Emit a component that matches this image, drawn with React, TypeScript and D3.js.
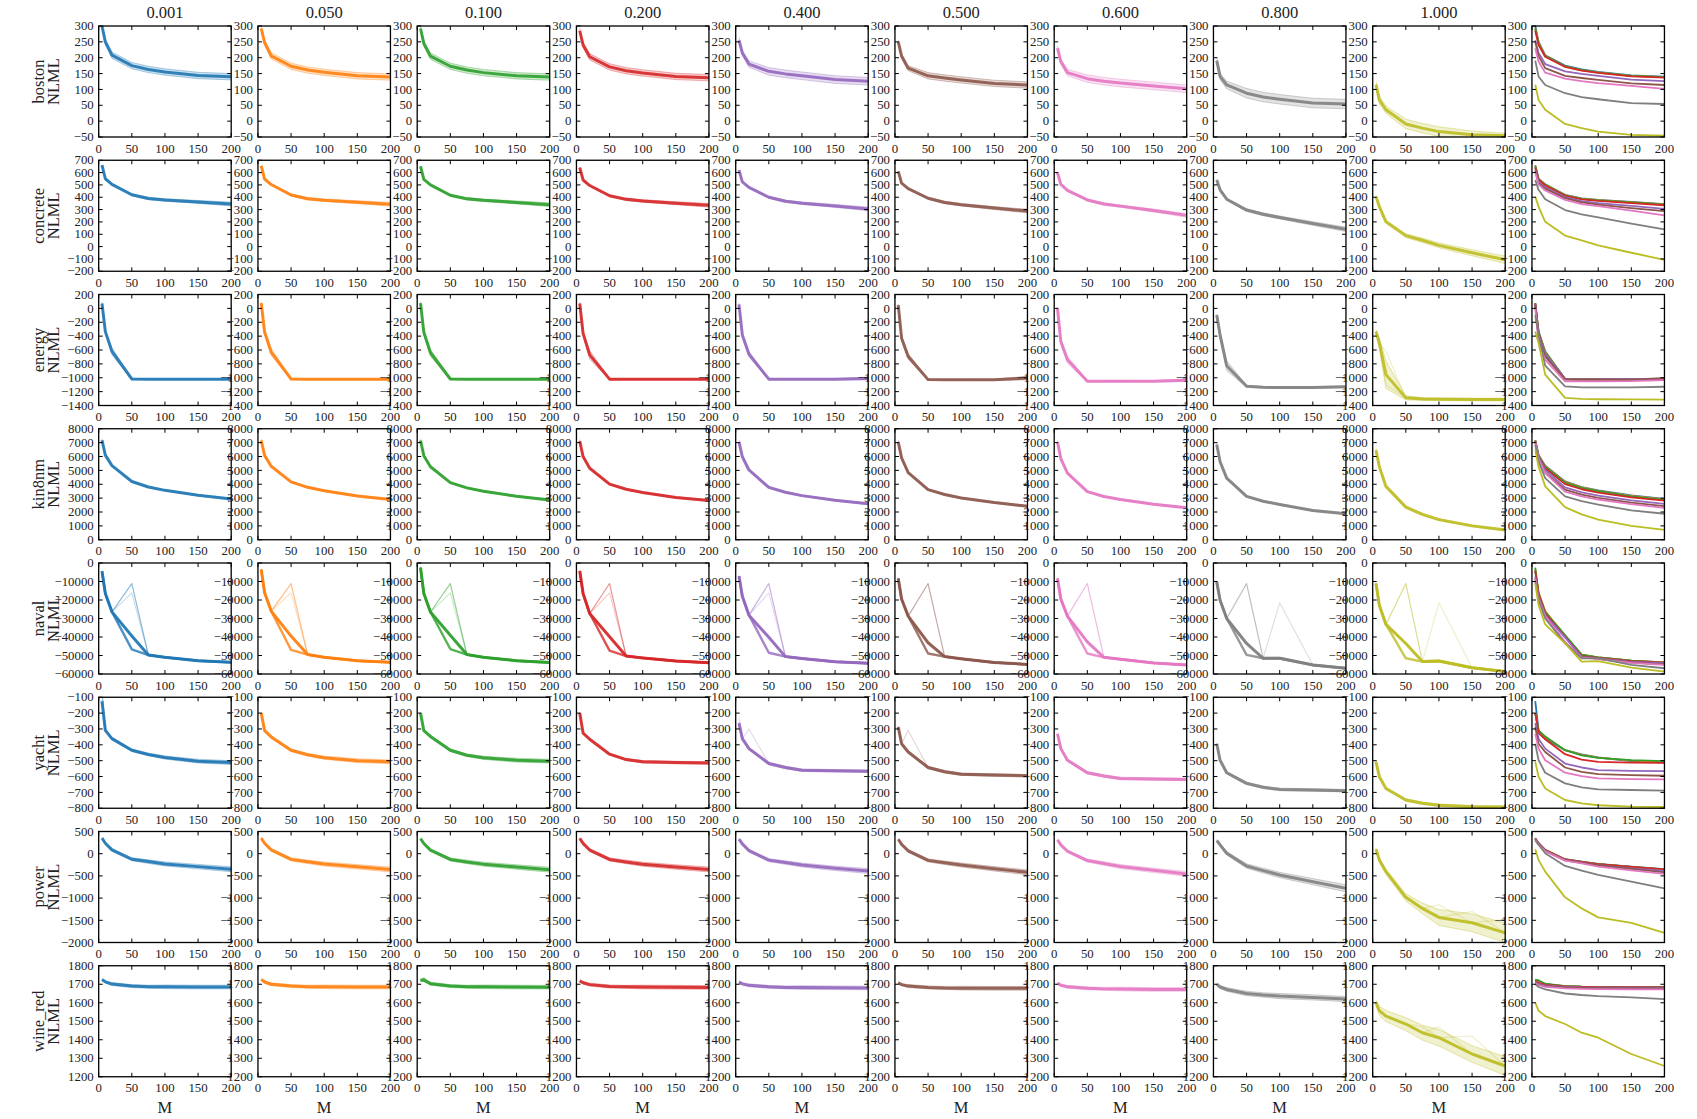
import React from 'react';
import * as d3 from 'd3';

// ---------------- data ----------------
const M = [5, 10, 20, 50, 75, 100, 150, 200];
const fractions = ['0.001', '0.050', '0.100', '0.200', '0.400', '0.500', '0.600', '0.800', '1.000'];
const colors = ['#1f77b4', '#ff7f0e', '#2ca02c', '#d62728', '#9467bd', '#8c564b', '#e377c2', '#7f7f7f', '#bcbd22'];
const datasets = ['boston', 'concrete', 'energy', 'kin8nm', 'naval', 'yacht', 'power', 'wine_red'];
const yDomains = [[-50, 300], [-200, 700], [-1400, 200], [0, 8000], [-60000, 0], [-800, -100], [-2000, 500], [1200, 1800]];
const yTickSteps = [50, 100, 200, 1000, 10000, 100, 500, 100];
const xTicks = [0, 50, 100, 150, 200];

const bostonMean = [
  [300, 250, 208, 175, 163, 155, 144, 140],
  [292, 248, 206, 173, 161, 154, 143, 139],
  [292, 245, 205, 173, 161, 153, 143, 139],
  [285, 240, 203, 171, 159, 152, 141, 137],
  [255, 215, 180, 157, 149, 143, 131, 126],
  [250, 205, 167, 143, 136, 130, 119, 114],
  [230, 188, 153, 134, 126, 120, 111, 102],
  [191, 141, 114, 88, 76, 69, 57, 54],
  [115, 67, 36, -9, -22, -33, -43, -46],
];
const bostonSpread = [
  [5, 8, 10, 10, 10, 10, 10, 10],
  [8, 8, 10, 10, 10, 10, 10, 10],
  [8, 8, 10, 10, 10, 10, 10, 10],
  [8, 8, 10, 10, 10, 10, 10, 10],
  [8, 8, 10, 12, 12, 12, 12, 12],
  [5, 8, 8, 10, 10, 10, 10, 10],
  [8, 8, 10, 12, 12, 12, 12, 12],
  [8, 10, 12, 15, 15, 15, 15, 15],
  [10, 12, 12, 15, 15, 15, 12, 8],
];

const concreteMean = [
  [660, 550, 505, 420, 390, 378, 362, 345],
  [655, 548, 503, 418, 388, 376, 360, 343],
  [650, 545, 500, 416, 387, 375, 358, 340],
  [640, 540, 495, 412, 383, 370, 352, 335],
  [620, 525, 480, 400, 368, 352, 330, 305],
  [610, 515, 470, 392, 358, 340, 312, 288],
  [600, 505, 455, 378, 345, 328, 292, 253],
  [540, 460, 384, 296, 262, 236, 187, 140],
  [405, 324, 201, 89, 51, 10, -50, -107],
];
const concreteSpread = [
  [5, 5, 6, 8, 10, 10, 12, 15],
  [5, 5, 6, 8, 10, 10, 12, 15],
  [5, 5, 6, 8, 10, 10, 12, 15],
  [5, 5, 6, 8, 10, 10, 12, 15],
  [5, 5, 6, 8, 10, 10, 12, 15],
  [5, 5, 6, 8, 10, 10, 12, 15],
  [5, 5, 6, 8, 10, 10, 12, 15],
  [6, 6, 8, 10, 12, 12, 15, 18],
  [10, 10, 12, 15, 18, 20, 25, 30],
];

const energyMean = [
  [70, -335, -620, -1018, -1020, -1020, -1020, -1020],
  [75, -340, -630, -1018, -1020, -1020, -1020, -1020],
  [75, -345, -640, -1018, -1020, -1020, -1020, -1020],
  [70, -360, -670, -1020, -1022, -1022, -1022, -1020],
  [57, -383, -660, -1020, -1022, -1022, -1020, -1010],
  [47, -430, -693, -1027, -1030, -1030, -1030, -1005],
  [0, -478, -740, -1051, -1052, -1052, -1050, -1035],
  [-96, -383, -827, -1123, -1138, -1140, -1140, -1130],
  [-335, -500, -955, -1290, -1305, -1310, -1312, -1314],
];
const energySpread = [
  [20, 30, 50, 10, 6, 6, 6, 10],
  [20, 30, 50, 10, 6, 6, 6, 10],
  [20, 30, 50, 10, 6, 6, 6, 10],
  [20, 30, 60, 10, 6, 6, 6, 10],
  [20, 30, 40, 10, 6, 6, 10, 20],
  [20, 30, 40, 10, 6, 6, 10, 25],
  [20, 40, 50, 12, 8, 8, 10, 20],
  [20, 60, 70, 15, 10, 10, 10, 15],
  [30, 80, 200, 30, 20, 20, 20, 20],
];

const kin8nmMean = [
  [7170, 6100, 5340, 4200, 3800, 3560, 3200, 2940],
  [7150, 6080, 5300, 4170, 3780, 3530, 3160, 2900],
  [7150, 6060, 5260, 4120, 3740, 3500, 3130, 2870],
  [7100, 6000, 5150, 4010, 3640, 3400, 3050, 2825],
  [7050, 5980, 5030, 3775, 3420, 3180, 2840, 2590],
  [7050, 5900, 4840, 3610, 3260, 3015, 2680, 2420],
  [7050, 5850, 4800, 3465, 3120, 2900, 2560, 2300],
  [6860, 5625, 4440, 3130, 2777, 2540, 2110, 1875],
  [6450, 5270, 3845, 2350, 1830, 1450, 1000, 710],
];
const kin8nmSpread = [
  [120, 80, 60, 50, 50, 50, 50, 60],
  [120, 80, 60, 50, 50, 50, 50, 60],
  [120, 80, 60, 50, 50, 50, 50, 60],
  [120, 80, 60, 50, 50, 50, 50, 60],
  [120, 80, 60, 50, 50, 50, 50, 60],
  [120, 80, 60, 50, 50, 50, 50, 60],
  [120, 80, 60, 50, 50, 50, 50, 60],
  [120, 80, 60, 50, 50, 50, 50, 60],
  [150, 100, 80, 80, 80, 70, 70, 70],
];

const navalMean = [
  [-4500, -16500, -26400, -39500, -49750, -51000, -52800, -53700],
  [-3600, -16000, -26000, -39500, -49500, -51000, -52800, -53700],
  [-2500, -16500, -26500, -39000, -49500, -51000, -52800, -53800],
  [-4300, -16500, -27300, -39900, -50300, -51300, -53000, -53900],
  [-7200, -18000, -28200, -40200, -50600, -51600, -53400, -54200],
  [-8400, -19500, -28700, -43100, -50600, -51800, -53800, -54800],
  [-8400, -19500, -28700, -42600, -51000, -52000, -54000, -55100],
  [-10200, -20100, -30000, -43500, -51500, -51500, -55100, -56900],
  [-11100, -22800, -33200, -43500, -53300, -53000, -56600, -58700],
];
const navalSpread = [
  [600, 500, 500, 500, 400, 400, 400, 400],
  [600, 500, 500, 500, 400, 400, 400, 400],
  [600, 500, 500, 500, 400, 400, 400, 400],
  [600, 500, 500, 500, 400, 400, 400, 400],
  [600, 500, 500, 500, 400, 400, 400, 400],
  [600, 500, 500, 500, 400, 400, 400, 400],
  [600, 500, 500, 500, 400, 400, 400, 400],
  [600, 600, 600, 600, 500, 600, 500, 500],
  [600, 600, 600, 600, 500, 600, 500, 500],
];

const yachtMean = [
  [-125, -309, -361, -434, -461, -480, -503, -512],
  [-200, -310, -350, -434, -463, -481, -500, -507],
  [-200, -310, -347, -434, -466, -482, -497, -503],
  [-200, -326, -365, -459, -493, -507, -512, -514],
  [-263, -361, -424, -518, -543, -560, -564, -566],
  [-288, -393, -445, -543, -570, -585, -591, -595],
  [-330, -424, -497, -576, -597, -612, -616, -618],
  [-393, -497, -576, -643, -668, -681, -685, -689],
  [-507, -601, -675, -748, -769, -781, -790, -792],
];
const yachtSpread = [
  [5, 8, 8, 8, 8, 10, 12, 12],
  [5, 8, 8, 8, 8, 10, 12, 12],
  [5, 8, 8, 8, 8, 10, 12, 12],
  [5, 6, 6, 6, 6, 8, 8, 8],
  [5, 8, 8, 8, 8, 8, 8, 8],
  [5, 8, 8, 8, 8, 8, 8, 8],
  [5, 8, 8, 8, 8, 8, 8, 8],
  [5, 8, 8, 8, 8, 8, 8, 8],
  [5, 8, 8, 8, 8, 8, 8, 8],
];

const powerMean = [
  [350, 236, 86, -125, -178, -230, -291, -350],
  [350, 236, 86, -128, -182, -233, -295, -355],
  [340, 230, 80, -130, -185, -235, -300, -360],
  [345, 232, 82, -130, -185, -236, -300, -355],
  [330, 220, 70, -145, -200, -255, -330, -390],
  [325, 210, 65, -150, -205, -255, -340, -420],
  [312, 200, 55, -155, -220, -290, -375, -456],
  [297, 200, 10, -276, -380, -479, -630, -780],
  [101, -140, -404, -983, -1232, -1435, -1556, -1782],
];
const powerSpread = [
  [20, 25, 30, 35, 40, 45, 50, 55],
  [20, 25, 30, 35, 40, 45, 50, 55],
  [20, 25, 30, 35, 40, 45, 50, 55],
  [20, 25, 30, 35, 40, 45, 50, 55],
  [20, 25, 30, 35, 40, 45, 50, 55],
  [20, 25, 30, 35, 40, 45, 50, 55],
  [20, 25, 30, 35, 40, 45, 50, 55],
  [20, 30, 40, 50, 55, 60, 70, 80],
  [20, 40, 60, 80, 120, 180, 200, 220],
];

const wineMean = [
  [1726, 1713, 1701, 1690, 1687, 1686, 1685, 1685],
  [1726, 1712, 1700, 1690, 1687, 1686, 1685, 1685],
  [1722, 1722, 1703, 1690, 1687, 1686, 1685, 1684],
  [1718, 1708, 1698, 1688, 1686, 1685, 1684, 1683],
  [1712, 1702, 1694, 1686, 1683, 1682, 1681, 1680],
  [1708, 1698, 1690, 1683, 1680, 1679, 1678, 1678],
  [1706, 1695, 1686, 1678, 1675, 1674, 1672, 1672],
  [1701, 1685, 1672, 1650, 1642, 1636, 1629, 1620],
  [1600, 1557, 1528, 1485, 1438, 1411, 1323, 1258],
];
const wineSpread = [
  [5, 6, 8, 8, 8, 10, 10, 10],
  [5, 6, 8, 8, 8, 10, 10, 10],
  [5, 6, 8, 8, 8, 10, 10, 10],
  [5, 6, 8, 8, 8, 10, 10, 10],
  [5, 6, 8, 8, 8, 10, 10, 10],
  [5, 6, 8, 8, 8, 10, 10, 10],
  [5, 6, 8, 8, 8, 10, 10, 10],
  [6, 8, 10, 12, 12, 14, 14, 14],
  [15, 25, 30, 35, 40, 45, 45, 50],
];

// individual runs that deviate from the mean at one M: [dataset, column, M index, value, kind]
const extraRuns: [number, number, number, number, string][] = [
  [4, 0, 3, -46700, 'strong'], [4, 0, 3, -11100, 'light'], [4, 0, 3, -16200, 'faint'],
  [4, 1, 3, -47000, 'strong'], [4, 1, 3, -11100, 'light'], [4, 1, 3, -16200, 'faint'],
  [4, 2, 3, -46500, 'strong'], [4, 2, 3, -11100, 'light'], [4, 2, 3, -16200, 'faint'],
  [4, 3, 3, -47400, 'strong'], [4, 3, 3, -11100, 'light'], [4, 3, 3, -16200, 'faint'],
  [4, 4, 3, -48500, 'strong'], [4, 4, 3, -11100, 'light'], [4, 4, 3, -16200, 'faint'],
  [4, 5, 3, -48900, 'strong'], [4, 5, 3, -11100, 'light'],
  [4, 6, 3, -48900, 'strong'], [4, 6, 3, -11100, 'light'],
  [4, 7, 3, -49700, 'strong'], [4, 7, 3, -11100, 'light'], [4, 7, 5, -21500, 'faint'],
  [4, 8, 3, -51500, 'strong'], [4, 8, 3, -11100, 'light'], [4, 8, 5, -21500, 'faint'],
  [5, 0, 0, -60, 'light'],
  [5, 4, 0, -230, 'faint'], [5, 4, 2, -300, 'faint'],
  [5, 5, 2, -310, 'faint'],
  [2, 8, 2, -620, 'faint'], [2, 8, 2, -1100, 'faint'],
  [6, 8, 5, -1150, 'faint'], [6, 8, 6, -1300, 'faint'], [6, 8, 7, -1480, 'faint'],
  [7, 8, 4, 1470, 'faint'], [7, 8, 6, 1420, 'faint'], [7, 8, 5, 1470, 'faint'],
  [7, 2, 1, 1735, 'light'],
];

const allMeans = [bostonMean, concreteMean, energyMean, kin8nmMean, navalMean, yachtMean, powerMean, wineMean];
const allSpreads = [bostonSpread, concreteSpread, energySpread, kin8nmSpread, navalSpread, yachtSpread, powerSpread, wineSpread];

// ---------------- layout ----------------
const W = 1697;
const H = 1119;
const PANEL_W = 132.5;
const PANEL_H = 111;
const COL_X0 = 98.7;
const COL_STEP = 159.25;
const ROW_Y0 = 26;
const ROW_STEP = 134.25;
const FONT = '"Liberation Serif", "DejaVu Serif", serif';
const TEXT = '#222';
const TICK_FS = 12.8;
const LABEL_FS = 16.5;

const fmt = (v: number) => (v < 0 ? '\u2212' + Math.abs(v) : String(v));

const runStyle: Record<string, { w: number; o: number }> = {
  strong: { w: 2.4, o: 0.8 },
  light: { w: 1.2, o: 0.5 },
  faint: { w: 1.1, o: 0.25 },
};

function Panel({ r, c }: { r: number; c: number }) {
  const x0 = COL_X0 + c * COL_STEP;
  const y0 = ROW_Y0 + r * ROW_STEP;
  const x = d3.scaleLinear().domain([0, 200]).range([x0, x0 + PANEL_W]);
  const [d0, d1] = yDomains[r];
  const y = d3.scaleLinear().domain([d0, d1]).range([y0 + PANEL_H, y0]);
  const step = yTickSteps[r];
  const yTicks = d3.range(d0, d1 + step / 2, step);
  const clipId = `clip-${r}-${c}`;
  const line = d3.line<number>().x((_, i) => x(M[i])).y((v) => y(v));
  const isSummary = c === 9;

  const content: React.ReactNode[] = [];
  if (isSummary) {
    allMeans[r].forEach((mean, k) => {
      content.push(
        <path key={`s${k}`} d={line(mean) || ''} fill="none" stroke={colors[k]} strokeWidth={1.8} strokeLinejoin="round" />
      );
    });
  } else {
    const mean = allMeans[r][c];
    const spread = allSpreads[r][c];
    const lo = mean.map((v, i) => v - spread[i]);
    const hi = mean.map((v, i) => v + spread[i]);
    const area = d3
      .area<number>()
      .x((_, i) => x(M[i]))
      .y0((_, i) => y(lo[i]))
      .y1((_, i) => y(hi[i]));
    const col = colors[c];
    content.push(<path key="band" d={area(mean) || ''} fill={col} fillOpacity={0.22} stroke="none" />);
    content.push(<path key="lo" d={line(lo) || ''} fill="none" stroke={col} strokeOpacity={0.35} strokeWidth={1} />);
    content.push(<path key="hi" d={line(hi) || ''} fill="none" stroke={col} strokeOpacity={0.35} strokeWidth={1} />);
    extraRuns
      .filter((e) => e[0] === r && e[1] === c)
      .forEach((e, k) => {
        const run = mean.slice();
        run[e[2]] = e[3];
        const st = runStyle[e[4]];
        content.push(
          <path key={`e${k}`} d={line(run) || ''} fill="none" stroke={col} strokeOpacity={st.o} strokeWidth={st.w} strokeLinejoin="round" />
        );
      });
    content.push(
      <path key="mean" d={line(mean) || ''} fill="none" stroke={col} strokeOpacity={0.9} strokeWidth={3} strokeLinejoin="round" />
    );
  }

  const tl = 4;
  return (
    <g>
      <defs>
        <clipPath id={clipId}>
          <rect x={x0} y={y0} width={PANEL_W} height={PANEL_H} />
        </clipPath>
      </defs>
      <g clipPath={`url(#${clipId})`}>{content}</g>
      {xTicks.map((t) => (
        <g key={`xt${t}`}>
          <line x1={x(t)} x2={x(t)} y1={y0 + PANEL_H} y2={y0 + PANEL_H - tl} stroke="#000" strokeWidth={1} />
          <line x1={x(t)} x2={x(t)} y1={y0} y2={y0 + tl} stroke="#000" strokeWidth={1} />
          <text x={x(t)} y={y0 + PANEL_H + 15.5} textAnchor="middle" fontFamily={FONT} fontSize={TICK_FS} fill={TEXT}>
            {fmt(t)}
          </text>
        </g>
      ))}
      {yTicks.map((t) => (
        <g key={`yt${t}`}>
          <line x1={x0} x2={x0 + tl} y1={y(t)} y2={y(t)} stroke="#000" strokeWidth={1} />
          <line x1={x0 + PANEL_W - tl} x2={x0 + PANEL_W} y1={y(t)} y2={y(t)} stroke="#000" strokeWidth={1} />
          <text x={x0 - 5} y={y(t) + 4.2} textAnchor="end" fontFamily={FONT} fontSize={TICK_FS} fill={TEXT}>
            {fmt(t)}
          </text>
        </g>
      ))}
      <rect x={x0} y={y0} width={PANEL_W} height={PANEL_H} fill="none" stroke="#000" strokeWidth={1.3} />
    </g>
  );
}

export default function App() {
  const panels: React.ReactNode[] = [];
  datasets.forEach((_, r) => {
    for (let c = 0; c < 10; c++) panels.push(<Panel key={`${r}-${c}`} r={r} c={c} />);
  });
  return (
    <div style={{ position: 'absolute', left: 0, top: 0 }}>
      <svg width={W} height={H} viewBox={`0 0 ${W} ${H}`} style={{ display: 'block', background: '#fff' }}>
        <rect x={0} y={0} width={W} height={H} fill="#fff" />
        {panels}
        {fractions.map((f, c) => (
          <text
            key={`t${c}`}
            x={COL_X0 + c * COL_STEP + PANEL_W / 2}
            y={18}
            textAnchor="middle"
            fontFamily={FONT}
            fontSize={LABEL_FS}
            fill={TEXT}
          >
            {f}
          </text>
        ))}
        {datasets.map((d, r) => {
          const cy = ROW_Y0 + r * ROW_STEP + PANEL_H / 2;
          return (
            <g key={`rl${r}`}>
              <text transform={`translate(43.5,${cy}) rotate(-90)`} textAnchor="middle" fontFamily={FONT} fontSize={LABEL_FS} fill={TEXT}>
                {d}
              </text>
              <text transform={`translate(58.5,${cy}) rotate(-90)`} textAnchor="middle" fontFamily={FONT} fontSize={LABEL_FS} fill={TEXT}>
                NLML
              </text>
            </g>
          );
        })}
        {fractions.map((_, c) => (
          <text
            key={`m${c}`}
            x={COL_X0 + c * COL_STEP + PANEL_W / 2}
            y={1113}
            textAnchor="middle"
            fontFamily={FONT}
            fontSize={LABEL_FS}
            fill={TEXT}
          >
            M
          </text>
        ))}
      </svg>
    </div>
  );
}
